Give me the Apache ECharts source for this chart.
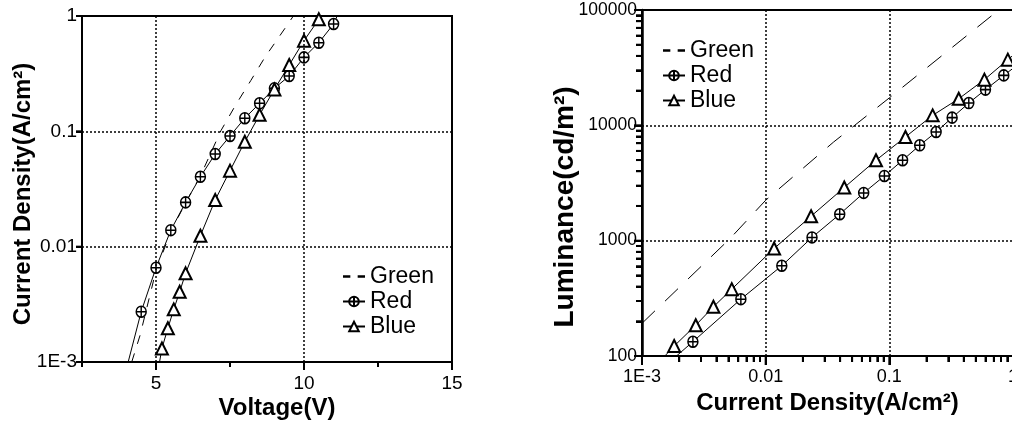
<!DOCTYPE html>
<html><head><meta charset="utf-8">
<script src="https://cdn.jsdelivr.net/npm/echarts@6/dist/echarts.min.js"></script>
<style>html,body{margin:0;padding:0;background:#fff}#c{width:1012px;height:425px}</style>
</head><body><div id="c"></div>
<script>
// ---------- Left panel: Current density vs Voltage ----------
const jvGreen = [[4.18,0.001],[4.46,0.0017],[5.0,0.0062],[5.5,0.0135],[6.0,0.024],[6.5,0.041],[7.19,0.101],[7.69,0.169],[8.2,0.275],[8.68,0.439],[9.41,0.818],[9.64,1.0]];
const jvRedV = [4.5,5.0,5.5,6.0,6.5,7.0,7.5,8.0,8.5,9.0,9.5,10.0,10.5,11.0];
const jvRedJ = [0.00273,0.00657,0.0139,0.0242,0.0404,0.0636,0.0911,0.130,0.175,0.236,0.302,0.438,0.587,0.852];
const jvRedEnds = [[4.06,0.001],[11.12,1.0]];
const jvBlueV = [5.2,5.4,5.6,5.8,6.0,6.5,7.0,7.5,8.0,8.5,9.0,9.5,10.0,10.5];
const jvBlueJ = [0.00131,0.00196,0.00286,0.00407,0.00587,0.01245,0.0254,0.0456,0.0813,0.139,0.231,0.376,0.611,0.936];
const jvBlueEnds = [[5.12,0.001],[10.55,1.0]];
const jvGridV = [5,10];
const jvGridJ = [0.01,0.1];
const jvXLabels = [5,10,15];
const jvYDecades = [-3, 0];

// ---------- Right panel: Luminance vs Current density ----------
const lumGreen = [[0.001,192],[0.00516,1045],[0.01,2240],[0.0354,7160],[0.1,17300],[0.767,100000]];
const lumRedJ = [0.00258,0.0063,0.0135,0.0237,0.0397,0.0620,0.0912,0.128,0.176,0.239,0.322,0.439,0.599,0.842];
const lumRedL = [133,311,606,1067,1695,2594,3640,4980,6710,8750,11660,15600,20400,27100];
const lumRedEnds = [[0.0019,100],[1.0,31200]];
const lumBlueJ = [0.00182,0.00272,0.00378,0.00532,0.0117,0.0233,0.0432,0.078,0.135,0.224,0.364,0.587,0.908];
const lumBlueL = [122,185,267,380,855,1630,2890,4980,7930,12200,17000,24900,37100];
const lumBlueEnds = [[0.00153,100],[1.0,40400]];
const lumGridJ = [0.01,0.1];
const lumGridL = [1000,10000];
const lumXDecades = [-3, 0];
const lumYDecades = [2, 5];

const legendNames = ['Green','Red','Blue'];

const FONT = '"Liberation Sans", Arial, Helvetica, sans-serif';
const circlePlus = 'path://M0,10A10,10,0,1,1,20,10A10,10,0,1,1,0,10ZM10,0L10,20M0,10L20,10';
const dashIcon = 'path://M0,9H6V11H0ZM12,9H18V11H12Z';

function logTicks(dec, withMinor) {
  const out = [];
  for (let e = dec[0]; e <= dec[1]; e++) {
    const b = Math.pow(10, e);
    for (let k = 1; k < 10; k++) {
      if ((e === dec[1] || !withMinor) && k > 1) break;
      out.push([+(k * b).toPrecision(4), k === 1 ? 1 : 0]);
    }
  }
  return out;
}
function logLabel(v) {
  const e = Math.round(Math.log10(v));
  if (e <= -3) return '1E' + e;
  if (e < 0) return Math.pow(10, e).toFixed(-e);
  return String(Math.round(Math.pow(10, e)));
}
function withEnds(xs, ys, ends) {
  const pts = xs.map((x, i) => [x, ys[i]]);
  return [{value: ends[0], symbol: 'none'}].concat(pts, [{value: ends[1], symbol: 'none'}]);
}
function gridMarks(xs, ys) {
  return {
    silent: true, symbol: ['none','none'], label: {show: false},
    lineStyle: {color: '#000', type: [2,2], width: 1.5},
    emphasis: {disabled: true},
    data: xs.map(v => ({xAxis: v})).concat(ys.map(v => ({yAxis: v})))
  };
}

const black = '#000';
const axisNameStyle = {fontSize: 24, fontWeight: 'bold', fontFamily: FONT, color: black};
const legendData = legendNames.map(n => n === 'Green' ? {name: n, icon: dashIcon} : {name: n});
const legendText = {fontSize: 23, lineHeight: 23, fontFamily: FONT, color: black};
const majorTick = len => ({show: true, length: len, lineStyle: {color: black, width: 2}});
const minorTick9 = {show: true, splitNumber: 9, length: 6, lineStyle: {color: black, width: 2}};

const option = {
  animation: false,
  backgroundColor: '#fff',
  textStyle: {fontFamily: FONT, color: black},
  grid: [
    {left: 82, top: 16, width: 370, height: 346, show: true, borderColor: black, borderWidth: 2,
     containLabel: false, outerBoundsMode: 'none'},
    {left: 642, top: 10, width: 371, height: 346, show: true, borderColor: black, borderWidth: 2,
     containLabel: false, outerBoundsMode: 'none'}
  ],
  legend: [
    {orient: 'vertical', left: 337, top: 260, itemWidth: 22, itemHeight: 12, itemGap: 2,
     selectedMode: false, data: legendData, textStyle: legendText},
    {orient: 'vertical', left: 657, top: 34, itemWidth: 22, itemHeight: 12, itemGap: 2,
     selectedMode: false, data: legendData, textStyle: legendText}
  ],
  xAxis: [
    {type: 'value', gridIndex: 0, min: 2.5, max: 15, interval: 2.5,
     axisLine: {show: true, lineStyle: {color: black, width: 2}},
     axisTick: {show: true, length: 5, lineStyle: {color: black, width: 2}},
     axisLabel: {fontSize: 19, margin: 12, color: black, fontFamily: FONT,
       formatter: v => jvXLabels.indexOf(v) >= 0 ? String(v) : ''},
     splitLine: {show: false},
     name: 'Voltage(V)', nameLocation: 'middle', nameGap: 34, nameMoveOverlap: false,
     nameTextStyle: Object.assign({padding: [0,0,0,20]}, axisNameStyle)},
    {type: 'log', gridIndex: 1, min: 0.001, max: 1,
     axisLine: {show: true, lineStyle: {color: black, width: 2}},
     axisTick: majorTick(9), minorTick: minorTick9,
     axisLabel: {fontSize: 18, margin: 12, color: black, fontFamily: FONT, formatter: logLabel},
     splitLine: {show: false}, minorSplitLine: {show: false},
     name: 'Current Density(A/cm²)', nameLocation: 'middle', nameGap: 35, nameMoveOverlap: false,
     nameTextStyle: axisNameStyle}
  ],
  yAxis: [
    {type: 'log', gridIndex: 0, min: 0.001, max: 1,
     axisLine: {show: true, lineStyle: {color: black, width: 2}},
     axisTick: majorTick(6),
     axisLabel: {fontSize: 19, margin: 5, color: black, fontFamily: FONT, formatter: logLabel},
     splitLine: {show: false},
     name: 'Current Density(A/cm²)', nameLocation: 'middle', nameGap: 47, nameMoveOverlap: false,
     nameTextStyle: Object.assign({padding: [0,10,0,0]}, axisNameStyle)},
    {type: 'log', gridIndex: 1, min: 100, max: 100000,
     axisLine: {show: true, lineStyle: {color: black, width: 2.5}},
     axisTick: majorTick(8), minorTick: minorTick9,
     axisLabel: {fontSize: 17.5, margin: 5, color: black, fontFamily: FONT, formatter: logLabel},
     splitLine: {show: false}, minorSplitLine: {show: false},
     name: 'Luminance(cd/m²)', nameLocation: 'middle', nameGap: 63, nameMoveOverlap: false,
     nameTextStyle: Object.assign({padding: [0,48,0,0]}, axisNameStyle, {fontSize: 28})}
  ],
  series: [
    {name: 'Green', type: 'line', xAxisIndex: 0, yAxisIndex: 0, data: jvGreen, symbol: 'none',
     lineStyle: {color: black, width: 1, type: [9,10]}, itemStyle: {color: black},
     markLine: gridMarks(jvGridV, jvGridJ), z: 2},
    {name: 'Red', type: 'line', xAxisIndex: 0, yAxisIndex: 0, data: withEnds(jvRedV, jvRedJ, jvRedEnds),
     symbol: circlePlus, symbolSize: [10, 11],
     lineStyle: {color: black, width: 1}, itemStyle: {color: '#fff', borderColor: black, borderWidth: 1.5}, z: 3},
    {name: 'Blue', type: 'line', xAxisIndex: 0, yAxisIndex: 0, data: withEnds(jvBlueV, jvBlueJ, jvBlueEnds),
     symbol: 'triangle', symbolSize: [12, 12],
     lineStyle: {color: black, width: 1}, itemStyle: {color: '#fff', borderColor: black, borderWidth: 2}, z: 3},

    {name: 'Green', type: 'line', xAxisIndex: 1, yAxisIndex: 1, data: lumGreen, symbol: 'none',
     lineStyle: {color: black, width: 1, type: [18,14]}, itemStyle: {color: black},
     markLine: gridMarks(lumGridJ, lumGridL), z: 2},
    {name: 'Red', type: 'line', xAxisIndex: 1, yAxisIndex: 1, data: withEnds(lumRedJ, lumRedL, lumRedEnds),
     symbol: circlePlus, symbolSize: [10, 11],
     lineStyle: {color: black, width: 1}, itemStyle: {color: '#fff', borderColor: black, borderWidth: 1.5}, z: 3},
    {name: 'Blue', type: 'line', xAxisIndex: 1, yAxisIndex: 1, data: withEnds(lumBlueJ, lumBlueL, lumBlueEnds),
     symbol: 'triangle', symbolSize: [12, 12],
     lineStyle: {color: black, width: 1}, itemStyle: {color: '#fff', borderColor: black, borderWidth: 2}, z: 3}
  ]
};

const chart = echarts.init(document.getElementById('c'), null, {renderer: 'canvas'});
chart.setOption(option);

const tickEls = [];
function addTicks(gridIndex, dim, ticks, anchor, majorLen, minorLen) {
  ticks.forEach(t => {
    const p = chart.convertToPixel({gridIndex: gridIndex}, dim === 'x' ? [t[0], anchor] : [anchor, t[0]]);
    if (!p || isNaN(p[0]) || isNaN(p[1])) return;
    const len = t[1] ? majorLen : minorLen;
    tickEls.push({
      type: 'line', silent: true, z: 100,
      shape: dim === 'x' ? {x1: p[0], y1: p[1], x2: p[0], y2: p[1] + len}
                         : {x1: p[0] - len, y1: p[1], x2: p[0], y2: p[1]},
      style: {stroke: black, lineWidth: 2}
    });
  });
}
addTicks(0, 'x', jvXLabels.map(v => [v, 1]), 0.001, 8, 5);
addTicks(0, 'y', logTicks(jvYDecades, false), 2.5, 6, 6);
addTicks(1, 'x', logTicks(lumXDecades, true), 100, 9, 6);
addTicks(1, 'y', logTicks(lumYDecades, true), 0.001, 8, 6);
chart.setOption({graphic: {elements: tickEls}});
</script>
</body></html>
